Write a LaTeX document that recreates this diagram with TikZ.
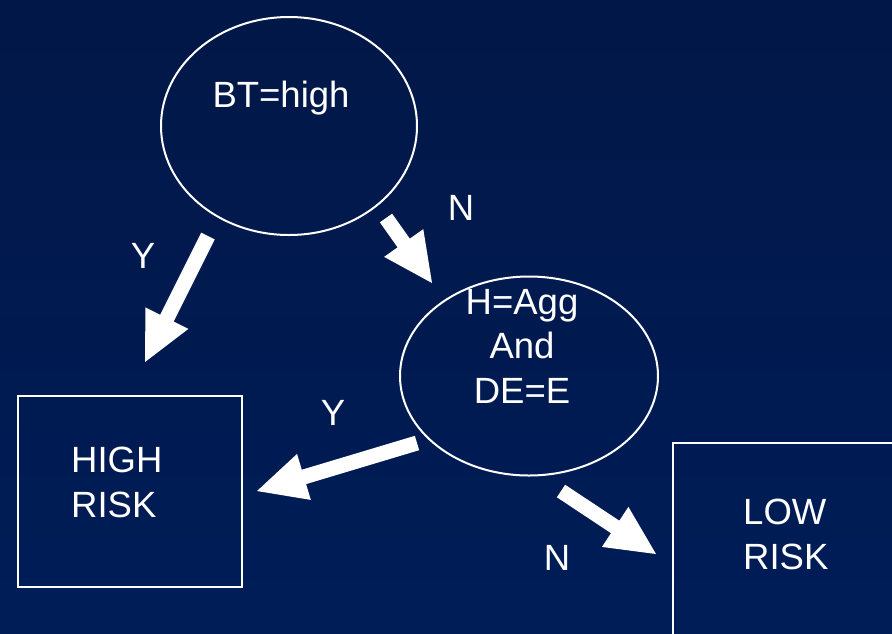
\documentclass[tikz,border=0pt]{standalone}
\usepackage{fontspec}
\setmainfont{Liberation Sans}
\usetikzlibrary{calc,shapes.geometric}

\definecolor{navytop}{RGB}{1,23,71}
\definecolor{navybot}{RGB}{0,29,88}

\tikzset{
  outline/.style={draw=white, line width=2pt, inner sep=0pt},
  decision/.style={outline, ellipse},
  leaf/.style={outline, rectangle},
  txt/.style={text=white, inner sep=0pt, font=\fontsize{36.5}{44.5}\selectfont, align=left},
  branch/.style={fill=white},
}

% thick block arrow from #1 to #2 (shaft half-width 7.5, head half-width 24, head length 49)
\newcommand{\blockarrow}[2]{%
  \coordinate (h) at ($(#2)!49pt!(#1)$);
  \fill[branch]
    ($(#1)!7.5pt!90:(#2)$) --
    ($(h)!7.5pt!-90:(#1)$) --
    ($(h)!24pt!-90:(#1)$) --
    (#2) --
    ($(h)!24pt!90:(#1)$) --
    ($(h)!7.5pt!90:(#1)$) --
    ($(#1)!7.5pt!-90:(#2)$) -- cycle;
}

\begin{document}
\begin{tikzpicture}[x=1pt,y=-1pt]
  \useasboundingbox (0,0) rectangle (892,633);
  \shade[top color=navytop, bottom color=navybot] (0,0) rectangle (892,633);

  % decision nodes
  \node[decision, minimum width=256pt, minimum height=218pt] (bt) at (289,126) {};
  \node[txt, anchor=base] (btt) at (281,107) {BT=high};

  \node[decision, minimum width=258pt, minimum height=199pt] (hagg) at (529,376) {};
  \node[txt, anchor=base, align=center] (haggt) at (522,403) {H=Agg\\And\\DE=E};

  % leaves
  \node[leaf, minimum width=224pt, minimum height=191pt, anchor=north west] (high) at (17,395) {};
  \node[txt, anchor=base west] (hight) at (71,517) {HIGH\\RISK};

  \begin{scope}
    \clip (0,0) rectangle (892,633);
    \node[leaf, minimum width=240pt, minimum height=210pt, anchor=north west] (low) at (672,442) {};
  \end{scope}
  \node[txt, anchor=base west] (lowt) at (743,569) {LOW\\RISK};

  % branch arrows
  \coordinate (a1s) at (208,236);  \coordinate (a1e) at (145,362);
  \coordinate (a2s) at (386,218);  \coordinate (a2e) at (432,283);
  \coordinate (a3s) at (417,443);  \coordinate (a3e) at (257,491);
  \coordinate (a4s) at (561,491);  \coordinate (a4e) at (656,554);
  \blockarrow{a1s}{a1e}
  \blockarrow{a2s}{a2e}
  \blockarrow{a3s}{a3e}
  \blockarrow{a4s}{a4e}

  % branch labels
  \node[txt, anchor=base] (y1) at (143,268) {Y};
  \node[txt, anchor=base] (n1) at (461,220) {N};
  \node[txt, anchor=base] (y2) at (333,425) {Y};
  \node[txt, anchor=base] (n2) at (557,570) {N};
\end{tikzpicture}
\end{document}
